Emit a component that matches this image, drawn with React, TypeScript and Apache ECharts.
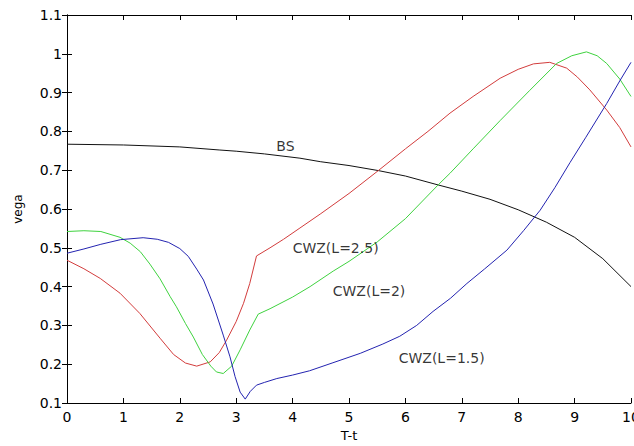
import React, { useEffect, useRef } from 'react';
import * as echarts from 'echarts';

const xBS = [0, 1, 2, 2.71, 3, 3.5, 4.13, 4.49, 5, 5.52, 6, 6.58, 7, 7.5, 8, 8.5, 9, 9.5, 10];
const yBS = [0.767, 0.765, 0.76, 0.752, 0.749, 0.742, 0.731, 0.722, 0.712, 0.699, 0.685, 0.662, 0.646, 0.625, 0.598, 0.566, 0.527, 0.472, 0.4];

const xL25 = [0, 0.3, 0.59, 0.94, 1.29, 1.65, 1.89, 2.1, 2.3, 2.54, 2.7, 2.83, 3.0, 3.13, 3.24, 3.36, 3.6, 3.84, 4.13, 4.5, 5.0, 5.52, 6.0, 6.4, 6.79, 7.2, 7.68, 8.0, 8.27, 8.56, 8.86, 9.05, 9.27, 9.57, 9.8, 10];
const yL25 = [0.468, 0.446, 0.421, 0.383, 0.331, 0.267, 0.225, 0.203, 0.195, 0.206, 0.23, 0.262, 0.31, 0.357, 0.408, 0.479, 0.5, 0.522, 0.551, 0.588, 0.64, 0.699, 0.755, 0.8, 0.847, 0.89, 0.937, 0.96, 0.974, 0.978, 0.963, 0.94, 0.907, 0.855, 0.81, 0.76];

const xL2 = [0, 0.3, 0.6, 0.94, 1.12, 1.3, 1.47, 1.65, 1.83, 1.94, 2.1, 2.24, 2.4, 2.55, 2.65, 2.77, 2.92, 3.07, 3.24, 3.39, 3.6, 4.0, 4.31, 4.72, 5.0, 5.5, 6.0, 6.58, 6.79, 7.2, 7.68, 8.2, 8.68, 8.95, 9.21, 9.4, 9.57, 9.8, 10];
const yL2 = [0.542, 0.544, 0.542, 0.527, 0.512, 0.49, 0.458, 0.42, 0.374, 0.348, 0.305, 0.27, 0.225, 0.195, 0.18, 0.176, 0.195, 0.237, 0.288, 0.329, 0.343, 0.373, 0.4, 0.44, 0.465, 0.515, 0.575, 0.662, 0.692, 0.755, 0.828, 0.905, 0.975, 0.995, 1.005, 0.995, 0.975, 0.935, 0.89];

const xL15 = [0, 0.3, 0.6, 0.95, 1.35, 1.6, 1.8, 2.0, 2.15, 2.3, 2.42, 2.59, 2.77, 2.89, 2.98, 3.07, 3.16, 3.25, 3.36, 3.5, 3.72, 4.0, 4.3, 4.7, 5.2, 5.6, 5.9, 6.2, 6.49, 6.8, 7.09, 7.4, 7.8, 8.1, 8.39, 8.65, 8.92, 9.2, 9.57, 9.8, 10];
const yL15 = [0.486, 0.497, 0.509, 0.521, 0.526, 0.522, 0.514, 0.498, 0.478, 0.445, 0.417, 0.355, 0.275, 0.219, 0.168, 0.128, 0.11, 0.13, 0.146, 0.153, 0.163, 0.172, 0.183, 0.203, 0.228, 0.252, 0.272, 0.3, 0.336, 0.37, 0.408, 0.445, 0.494, 0.545, 0.597, 0.655, 0.72, 0.785, 0.872, 0.93, 0.978];

const labelNames = ['BS', 'CWZ(L=2.5)', 'CWZ(L=2)', 'CWZ(L=1.5)'];
const labelX = [3.72, 4.01, 4.72, 5.89];
const labelY = [0.76, 0.497, 0.387, 0.215];

const xTicks = { min: 0, max: 10, interval: 1 };
const yTicks = { min: 0.1, max: 1.1, interval: 0.1 };

const FONT = 'DejaVu Sans';

function zip(xs: number[], ys: number[]) {
  return xs.map((x, i) => [x, ys[i]]);
}

export default function App() {
  const ref = useRef<HTMLDivElement>(null);
  useEffect(() => {
    const chart = echarts.init(ref.current!, null, { renderer: 'svg' });
    const axisLine = { show: true, lineStyle: { color: '#000', width: 1 } };
    const axisTick = { show: true, inside: true, length: 5, lineStyle: { color: '#000', width: 1 } };
    const fmt = (v: number) => String(+v.toFixed(1));
    const lineSeries = (name: string, data: number[][], color: string) => ({
      name,
      type: 'line',
      data,
      showSymbol: false,
      symbol: 'none',
      lineStyle: { color, width: 1 },
      itemStyle: { color },
      silent: true,
    });
    chart.setOption({
      animation: false,
      backgroundColor: '#fff',
      grid: { left: 67, right: 3, top: 15, bottom: 43, containLabel: false, outerBoundsMode: 'none' },
      xAxis: [
        {
          type: 'value', ...xTicks, position: 'bottom',
          axisLine, axisTick,
          axisLabel: { color: '#000', fontSize: 14, fontFamily: FONT, margin: 7, formatter: fmt },
          splitLine: { show: false },
          name: 'T-t', nameLocation: 'middle', nameGap: 22,
          nameTextStyle: { color: '#000', fontSize: 13, fontFamily: FONT },
        },
        {
          type: 'value', ...xTicks, position: 'top',
          axisLine, axisTick,
          axisLabel: { show: false },
          splitLine: { show: false },
        },
      ],
      yAxis: [
        {
          type: 'value', ...yTicks, position: 'left',
          axisLine, axisTick,
          axisLabel: { color: '#000', fontSize: 14, fontFamily: FONT, margin: 5, formatter: fmt },
          splitLine: { show: false },
          name: 'vega', nameLocation: 'middle', nameGap: 43,
          nameTextStyle: { color: '#000', fontSize: 12, fontFamily: FONT },
        },
        {
          type: 'value', ...yTicks, position: 'right',
          axisLine, axisTick,
          axisLabel: { show: false },
          splitLine: { show: false },
        },
      ],
      series: [
        lineSeries('BS', zip(xBS, yBS), '#111111'),
        lineSeries('CWZ(L=2.5)', zip(xL25, yL25), '#d23c3c'),
        lineSeries('CWZ(L=2)', zip(xL2, yL2), '#3fd23f'),
        lineSeries('CWZ(L=1.5)', zip(xL15, yL15), '#2323b0'),
        {
          name: 'labels',
          type: 'scatter',
          silent: true,
          symbolSize: 1,
          itemStyle: { color: 'rgba(0,0,0,0)' },
          z: 5,
          data: labelNames.map((n, i) => ({ value: [labelX[i], labelY[i]], name: n })),
          label: {
            show: true,
            position: [0, 0],
            align: 'left',
            verticalAlign: 'middle',
            formatter: (p: any) => p.name,
            color: '#000',
            fontSize: 14,
            fontFamily: FONT,
          },
        },
      ],
    });
    return () => chart.dispose();
  }, []);
  return (
    <div
      ref={ref}
      style={{ position: 'fixed', left: 0, top: 0, width: 634, height: 446, background: '#fff' }}
    />
  );
}
